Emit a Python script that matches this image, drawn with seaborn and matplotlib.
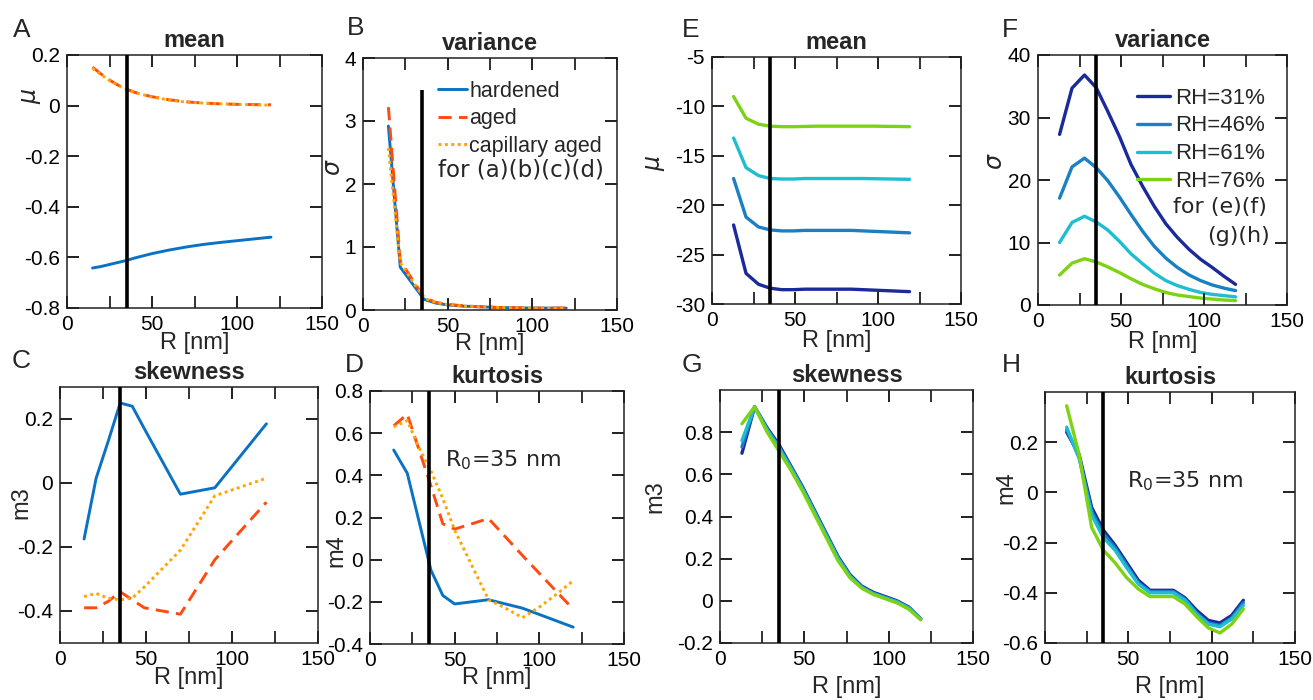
import matplotlib
matplotlib.use("Agg")
import matplotlib.pyplot as plt
from matplotlib.ticker import FuncFormatter
import seaborn as sns

W, H = 1313, 700
R0 = 35            # reference radius, nm
B_MARK_TOP = 3.5   # the R0 marker in panel B stops here
TICK_PX = 12       # inward tick length in pixels

# ── A-D: hardened / aged / capillary aged ─────────────────────
A_R = [15, 20, 25, 30, 35, 40, 50, 60, 70, 80, 90, 100, 110, 120]
A_HARD = [-0.642, -0.636, -0.628, -0.620, -0.612, -0.602, -0.585, -0.571,
          -0.559, -0.549, -0.541, -0.534, -0.527, -0.520]
A_AGED = [0.152, 0.125, 0.101, 0.081, 0.065, 0.052, 0.035, 0.023,
          0.015, 0.010, 0.007, 0.005, 0.004, 0.003]
A_CAP = [0.148, 0.122, 0.099, 0.080, 0.064, 0.051, 0.034, 0.022,
         0.014, 0.010, 0.007, 0.005, 0.003, 0.002]

B_R = [15, 22, 36, 43, 50, 60, 70, 80, 90, 100, 110, 120]
B_HARD = [2.92, 0.68, 0.17, 0.11, 0.08, 0.06, 0.05, 0.04, 0.035, 0.03, 0.03, 0.03]
B_AGED = [3.22, 0.78, 0.20, 0.12, 0.09, 0.065, 0.05, 0.04, 0.035, 0.03, 0.03, 0.03]
B_CAP = [2.57, 0.75, 0.19, 0.12, 0.085, 0.06, 0.05, 0.04, 0.035, 0.03, 0.03, 0.03]

C_R = [14, 21, 28, 35, 42, 49, 70, 90, 120]
C_HARD = [-0.175, 0.015, 0.13, 0.25, 0.24, 0.17, -0.035, -0.015, 0.185]
C_AGED = [-0.39, -0.39, -0.37, -0.34, -0.365, -0.39, -0.41, -0.24, -0.06]
C_CAP = [-0.355, -0.345, -0.36, -0.365, -0.36, -0.325, -0.21, -0.04, 0.015]

D_R = [14, 22, 29, 36, 43, 50, 60, 70, 80, 90, 100, 110, 120]
D_HARD = [0.52, 0.41, 0.18, -0.05, -0.17, -0.21, -0.20, -0.19, -0.21,
          -0.23, -0.26, -0.29, -0.32]
D_AGED = [0.635, 0.69, 0.52, 0.35, 0.17, 0.145, 0.17, 0.195, 0.108,
          0.02, -0.065, -0.15, -0.235]
D_CAP = [0.63, 0.66, 0.53, 0.42, 0.29, 0.14, -0.025, -0.19, -0.23,
         -0.275, -0.225, -0.165, -0.10]

SAMPLES = ["hardened", "aged", "capillary aged"]
SAMPLE_COLORS = ["#0a72c4", "#ff4a12", "#ffa500"]
SAMPLE_STYLES = ["-", (0, (4.5, 2.5)), (0, (1, 1.2))]

# ── E-H: relative humidity series ─────────────────────────────
RH_R = [13, 20.5, 28, 35, 42, 49, 56, 63, 70, 77, 84, 91, 98, 105, 112, 119]
RH_LABELS = ["RH=31%", "RH=46%", "RH=61%", "RH=76%"]
RH_COLORS = ["#1a2a9b", "#1a80c4", "#1ebdd0", "#7dd214"]

E_MEAN = [
    [-22.0, -26.9, -28.0, -28.4, -28.55, -28.55, -28.5, -28.5, -28.5, -28.5,
     -28.5, -28.55, -28.6, -28.65, -28.7, -28.75],
    [-17.3, -21.2, -22.2, -22.5, -22.6, -22.6, -22.55, -22.55, -22.55, -22.55,
     -22.55, -22.6, -22.65, -22.7, -22.75, -22.8],
    [-13.2, -16.2, -17.0, -17.3, -17.35, -17.35, -17.3, -17.3, -17.3, -17.3,
     -17.3, -17.3, -17.32, -17.34, -17.36, -17.38],
    [-9.0, -11.2, -11.8, -12.0, -12.05, -12.05, -12.03, -12.0, -12.0, -12.0,
     -12.0, -12.0, -12.0, -12.02, -12.03, -12.05],
]
F_VAR = [
    [27.3, 34.7, 36.8, 34.8, 31.0, 27.0, 22.5, 19.0, 15.8, 13.0, 10.8, 8.9,
     7.3, 6.0, 4.6, 3.3],
    [17.1, 22.1, 23.5, 22.0, 19.9, 17.3, 14.5, 11.8, 9.4, 7.5, 6.0, 4.8,
     3.9, 3.2, 2.7, 2.3],
    [10.0, 13.2, 14.2, 13.3, 12.0, 10.2, 8.2, 6.6, 5.1, 3.9, 3.1, 2.5,
     2.0, 1.7, 1.5, 1.3],
    [4.8, 6.7, 7.4, 6.9, 6.1, 5.2, 4.2, 3.3, 2.6, 2.0, 1.6, 1.35,
     1.1, 0.95, 0.8, 0.7],
]
G_SKEW = [
    [0.70, 0.92, 0.82, 0.74, 0.64, 0.54, 0.43, 0.32, 0.21, 0.125, 0.07,
     0.04, 0.02, 0.0, -0.03, -0.085],
    [0.73, 0.92, 0.815, 0.73, 0.635, 0.535, 0.425, 0.315, 0.205, 0.12,
     0.066, 0.036, 0.016, -0.003, -0.033, -0.085],
    [0.76, 0.92, 0.81, 0.725, 0.63, 0.53, 0.42, 0.31, 0.20, 0.117, 0.063,
     0.033, 0.014, -0.005, -0.035, -0.086],
    [0.84, 0.92, 0.80, 0.71, 0.62, 0.52, 0.41, 0.30, 0.19, 0.11, 0.06,
     0.03, 0.01, -0.01, -0.04, -0.09],
]
H_KURT = [
    [0.24, 0.15, -0.06, -0.15, -0.21, -0.28, -0.35, -0.39, -0.39, -0.39,
     -0.42, -0.47, -0.51, -0.52, -0.49, -0.43],
    [0.25, 0.14, -0.075, -0.165, -0.22, -0.29, -0.36, -0.395, -0.395,
     -0.395, -0.425, -0.48, -0.52, -0.53, -0.50, -0.44],
    [0.26, 0.135, -0.09, -0.18, -0.23, -0.30, -0.365, -0.40, -0.40, -0.40,
     -0.43, -0.485, -0.525, -0.535, -0.505, -0.45],
    [0.345, 0.15, -0.14, -0.23, -0.28, -0.34, -0.385, -0.415, -0.415,
     -0.415, -0.445, -0.495, -0.54, -0.56, -0.525, -0.465],
]

X_MAJOR = [0, 50, 100, 150]
X_ALL = [0, 25, 50, 75, 100, 125, 150]

sns.set_style("white")
plt.rcParams.update({
    "font.family": ["Liberation Sans", "DejaVu Sans"],
    "axes.unicode_minus": False,
    "axes.axisbelow": False,
    "xtick.direction": "in", "ytick.direction": "in",
    "xtick.bottom": True, "xtick.top": True,
    "ytick.left": True, "ytick.right": True,
    "xtick.color": "#222222", "ytick.color": "#222222",
    "xtick.labelcolor": "black", "ytick.labelcolor": "black",
})

fig = plt.figure(figsize=(W / 100, H / 100), dpi=100)
fmt = FuncFormatter(lambda v, p: f"{round(v, 6) + 0:g}")
SEG = dict(color="#222222", lw=1.3, solid_capstyle="butt", clip_on=False,
           zorder=6)


def new_axes(box):
    l, t, r, b = box
    ax = fig.add_axes([l / W, 1 - b / H, (r - l) / W, (b - t) / H])
    ax._px = (r - l, b - t)
    return ax


def decorate(ax, letter, letter_xy, title, ylabel, ylab_xy, xlab_y,
             ylim, yticks):
    ax.set_title(title, fontsize=17, fontweight="bold", pad=6)
    fig.text(letter_xy[0] / W, 1 - letter_xy[1] / H, letter, fontsize=19,
             va="baseline", ha="left")
    ax.set_xlabel("R [nm]", fontsize=17)
    ax.xaxis.set_label_coords(0.5, xlab_y)
    ax.set_ylabel(ylabel, fontsize=17)
    ax.yaxis.set_label_coords(*ylab_xy)
    for s in ax.spines.values():
        s.set_color("#222222"); s.set_linewidth(1.1)
    ax.set_xticks(X_MAJOR)
    ax.set_yticks(yticks)
    ax.xaxis.set_major_formatter(fmt)
    ax.yaxis.set_major_formatter(fmt)
    ax.tick_params(which="both", direction="in", top=True, right=True,
                   bottom=True, left=True, length=8.5, width=1.1,
                   color="#222222", labelsize=15, pad=5)
    # inward tick marks on all four sides, drawn as short segments
    wpx, hpx = ax._px
    lx = TICK_PX / hpx
    ly = TICK_PX / wpx
    xt = ax.get_xaxis_transform()
    yt = ax.get_yaxis_transform()
    for v in X_ALL:
        ax.plot([v, v], [0, lx], transform=xt, **SEG)
        ax.plot([v, v], [1 - lx, 1], transform=xt, **SEG)
    for v in yticks:
        ax.plot([0, ly], [v, v], transform=yt, **SEG)
        ax.plot([1 - ly, 1], [v, v], transform=yt, **SEG)
    ax.set_xlim(0, 150)
    ax.set_ylim(*ylim)


def draw_samples(ax, x, series, legend=False):
    for y, name, col, ls in zip(series, SAMPLES, SAMPLE_COLORS, SAMPLE_STYLES):
        sns.lineplot(x=x, y=y, ax=ax, color=col, linestyle=ls, linewidth=2.1,
                     label=name if legend else None)
    if not legend and ax.get_legend() is not None:
        ax.get_legend().remove()


def draw_rh(ax, series, legend=False):
    for y, name, col in zip(series, RH_LABELS, RH_COLORS):
        sns.lineplot(x=RH_R, y=y, ax=ax, color=col, linewidth=2.4,
                     label=name if legend else None)
    if not legend and ax.get_legend() is not None:
        ax.get_legend().remove()


# ── A: mean ─────────────────────────────────────────────────
ax = new_axes((67, 55, 322, 308))
draw_samples(ax, A_R, [A_HARD, A_AGED, A_CAP])
ax.axvline(R0, color="black", lw=2.6, zorder=5)
decorate(ax, "A", (13, 37), "mean", r"$\mu$", (-0.094, 0.84), -0.095,
         (-0.8, 0.2), [-0.8, -0.6, -0.4, -0.2, 0, 0.2])

# ── B: variance ─────────────────────────────────────────────
ax = new_axes((363, 58, 617, 310))
draw_samples(ax, B_R, [B_HARD, B_AGED, B_CAP], legend=True)
ax.vlines(R0, 0, B_MARK_TOP, color="black", lw=2.6, zorder=5)
ax.legend(loc="upper left", bbox_to_anchor=(0.295, 0.91), frameon=False,
          fontsize=15.5, handlelength=1.35, handletextpad=0.1,
          labelspacing=0.3, borderpad=0, borderaxespad=0)
ax.text(0.295, 0.556, "for (a)(b)(c)(d)", transform=ax.transAxes,
        family="DejaVu Sans", fontsize=16.5, va="center", ha="left")
decorate(ax, "B", (347, 35), "variance", r"$\sigma$", (-0.071, 0.567), -0.09,
         (0, 4), [0, 1, 2, 3, 4])

# ── C: skewness ─────────────────────────────────────────────
ax = new_axes((60, 387, 318, 643))
draw_samples(ax, C_R, [C_HARD, C_AGED, C_CAP])
ax.axvline(R0, color="black", lw=2.6, zorder=5)
decorate(ax, "C", (12, 368), "skewness", "m3", (-0.105, 0.547), -0.092,
         (-0.5, 0.3), [-0.4, -0.2, 0, 0.2])

# ── D: kurtosis ─────────────────────────────────────────────
ax = new_axes((370, 391, 624, 644))
draw_samples(ax, D_R, [D_HARD, D_AGED, D_CAP])
ax.axvline(R0, color="black", lw=2.6, zorder=5)
ax.text(44.3, 0.444, r"R$_0$=35 nm", family="DejaVu Sans", fontsize=16,
        va="baseline", ha="left")
decorate(ax, "D", (345, 372), "kurtosis", "m4", (-0.09, 0.37), -0.092,
         (-0.4, 0.8), [-0.4, -0.2, 0, 0.2, 0.4, 0.6, 0.8])

# ── E: mean vs RH ───────────────────────────────────────────
ax = new_axes((712, 57, 961, 304))
draw_rh(ax, E_MEAN)
ax.axvline(R0, color="black", lw=2.6, zorder=5)
decorate(ax, "E", (682, 37), "mean", r"$\mu$", (-0.18, 0.57), -0.105,
         (-30, -5), [-30, -25, -20, -15, -10, -5])

# ── F: variance vs RH ───────────────────────────────────────
ax = new_axes((1038, 55, 1287, 305))
draw_rh(ax, F_VAR, legend=True)
ax.axvline(R0, color="black", lw=2.6, zorder=5)
ax.legend(loc="upper left", bbox_to_anchor=(0.398, 0.87), frameon=False,
          fontsize=16, handlelength=1.5, handletextpad=0.2,
          labelspacing=0.31, borderpad=0, borderaxespad=0)
ax.text(0.92, 0.392, "for (e)(f)", transform=ax.transAxes,
        family="DejaVu Sans", fontsize=16, va="center", ha="right")
ax.text(0.93, 0.276, "(g)(h)", transform=ax.transAxes,
        family="DejaVu Sans", fontsize=16, va="center", ha="right")
decorate(ax, "F", (1002, 37), "variance", r"$\sigma$", (-0.125, 0.576), -0.105,
         (0, 40), [0, 10, 20, 30, 40])

# ── G: skewness vs RH ───────────────────────────────────────
ax = new_axes((720, 390, 973, 643))
draw_rh(ax, G_SKEW)
ax.axvline(R0, color="black", lw=2.6, zorder=5)
decorate(ax, "G", (682, 372), "skewness", "m3", (-0.21, 0.577), -0.13,
         (-0.2, 1.0), [-0.2, 0, 0.2, 0.4, 0.6, 0.8])

# ── H: kurtosis vs RH ───────────────────────────────────────
ax = new_axes((1045, 392, 1295, 643))
draw_rh(ax, H_KURT)
ax.axvline(R0, color="black", lw=2.6, zorder=5)
ax.text(49.2, 0.02, r"R$_0$=35 nm", family="DejaVu Sans", fontsize=16,
        va="baseline", ha="left")
decorate(ax, "H", (1002, 372), "kurtosis", "m4", (-0.112, 0.62), -0.13,
         (-0.6, 0.4), [-0.6, -0.4, -0.2, 0, 0.2])

fig.savefig("out.png", dpi=100)
